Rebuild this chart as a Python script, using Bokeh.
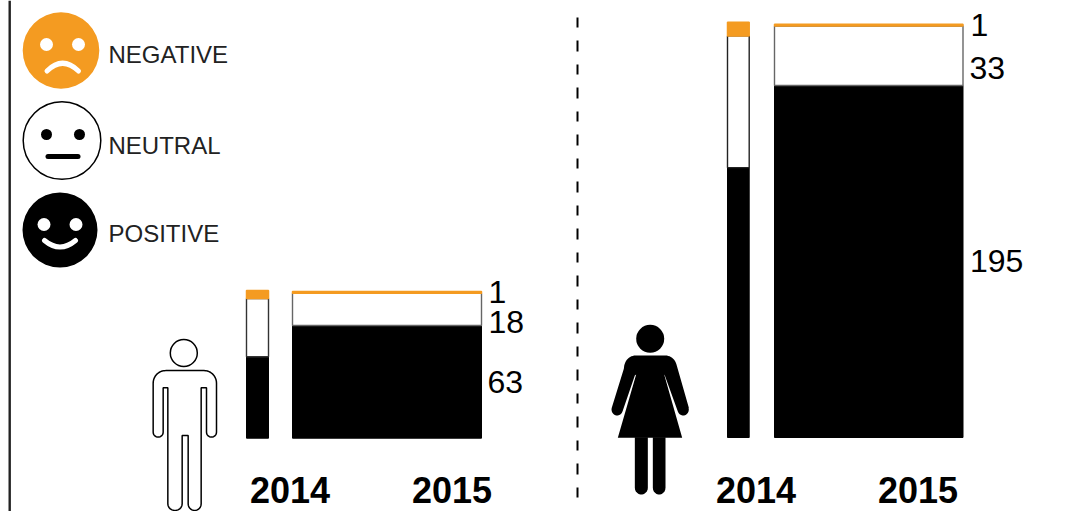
import numpy as np
from bokeh.plotting import figure
from bokeh.models import Range1d
from bokeh.core.properties import value
from bokeh.embed import file_html
from bokeh.resources import INLINE

# ---- data ----
groups = ["men", "women"]
years = ["2014", "2015"]
men_positive = [45.5, 63]
men_neutral = [32.5, 18]
men_negative = [4.5, 1]
women_positive = [149.5, 195]
women_neutral = [73, 33]
women_negative = [7.5, 1]
legend_labels = ["NEGATIVE", "NEUTRAL", "POSITIVE"]

# ---- style / layout ----
ORANGE = "#f49b21"
W, H = 1075, 511
WOMEN_SCALE, WOMEN_BASE = 1.805, 437
MEN_SCALE, MEN_BASE = 1.79, 437.7
BASELINE_SHIFT = 0.37  # renderer places alphabetic text this fraction of its size low
men_left, men_right = [246, 292], [268, 481]
women_left, women_right = [727, 774], [748.7, 962.5]

p = figure(width=W, height=H, output_backend="svg", toolbar_location=None,
           x_range=Range1d(0, W),
           y_range=Range1d((WOMEN_BASE - H) / WOMEN_SCALE, WOMEN_BASE / WOMEN_SCALE),
           min_border=0, outline_line_color=None, background_fill_color="white",
           border_fill_color="white")
p.extra_y_ranges = {"px": Range1d(H, 0),
                    "men": Range1d((MEN_BASE - H) / MEN_SCALE, MEN_BASE / MEN_SCALE)}
p.axis.visible = False
p.grid.visible = False
p.xaxis.visible = False
p.yaxis.visible = False


def stacked(left, right, pos, neu, neg, outline, rng="default"):
    pos, neu, neg = map(np.array, (pos, neu, neg))
    p.quad(left=left, right=right, bottom=0, top=pos, y_range_name=rng,
           fill_color="black", line_color="black", line_width=1)
    for i in range(2):
        p.quad(left=[left[i]], right=[right[i]], bottom=[pos[i]], top=[pos[i] + neu[i]], y_range_name=rng,
               fill_color="white", line_color=outline[i], line_width=1.4)
    p.quad(left=left, right=right, bottom=pos + neu, top=pos + neu + neg, y_range_name=rng,
           fill_color=ORANGE, line_color=ORANGE, line_width=1.5)


stacked(men_left, men_right, men_positive, men_neutral, men_negative, ["#333333", "#666666"], "men")
stacked(women_left, women_right, women_positive, women_neutral, women_negative, ["#222222", "#666666"])


def txt(x, y, s, size, bold=False, font="Liberation Sans", color="black"):
    p.text([x], [y - BASELINE_SHIFT * size], text=[s], y_range_name="px", text_font=value(font),
           text_font_size=f"{size}px", text_font_style="bold" if bold else "normal",
           text_color=color, text_baseline="alphabetic", text_align="left")


# value labels
txt(488, 303, str(men_negative[1]), 32)
txt(488, 333, str(men_neutral[1]), 32)
txt(487, 393, str(men_positive[1]), 32)
txt(970, 36, str(women_negative[1]), 32)
txt(969, 79, str(women_neutral[1]), 32)
txt(969.5, 272, str(women_positive[1]), 32)

# year labels
txt(249.5, 503, years[0], 36, True)
txt(411.5, 503, years[1], 36, True)
txt(715.5, 503, years[0], 36, True)
txt(877.5, 503, years[1], 36, True)

# legend labels
txt(108, 63, legend_labels[0], 24, color="#222222")
txt(108, 154, legend_labels[1], 24, color="#222222")
txt(108, 242, legend_labels[2], 24, color="#222222")

# rules
p.line([9.2, 9.2], [0, 511], y_range_name="px", line_color="#222222", line_width=2.4)
p.line([577, 577], [17, 498], y_range_name="px", line_color="black", line_width=2, line_dash="10 13 11 13")


# face icons
def dot(x, y, r, color):
    p.circle([x], [y], radius=r, y_range_name="px", fill_color=color, line_color=None)


p.circle([60.5], [50], radius=38.3, y_range_name="px", fill_color=ORANGE, line_color=None)
dot(46, 44, 6.5, "white"); dot(78, 44, 6.5, "white")
p.quadratic(x0=[46.5], y0=[70.5], x1=[78], y1=[70.5], cx=[62], cy=[55], y_range_name="px",
            line_color="white", line_width=5, line_cap="round")

p.circle([61.5], [140], radius=38.8, y_range_name="px", fill_color="white", line_color="black", line_width=1.5)
dot(46, 134, 5.5, "black"); dot(79, 134, 5.5, "black")
p.line([47.5, 77.5], [156, 156], y_range_name="px", line_color="black", line_width=5, line_cap="round")

p.circle([59.5], [229.5], radius=37.5, y_range_name="px", fill_color="black", line_color=None)
dot(43.5, 224, 6.5, "white"); dot(75.5, 224, 6.5, "white")
p.quadratic(x0=[44], y0=[240], x1=[75], y1=[240], cx=[59.5], cy=[253], y_range_name="px",
            line_color="white", line_width=5, line_cap="round")


# person icons: outlines traced in crop coordinates
def arc(cx, cy, rx, ry, a0, a1, n=12):
    t = np.radians(np.linspace(a0, a1, n))
    return list(zip(cx + rx * np.cos(t), cy + ry * np.sin(t)))


def to_px(pts, ox, oy):
    a = np.array(pts, dtype=float)
    return list(a[:, 0] / 3 + ox), list(a[:, 1] / 3 + oy)


man = ([(75, 270), (190, 270)] + arc(190, 308, 38, 38, -90, 0) + [(228, 455)]
       + arc(213, 455, 15, 15, 0, 180) + [(198, 322), (182, 322), (182, 670)]
       + arc(162.5, 670, 19.5, 20, 0, 180) + [(143, 465), (125, 465), (125, 670)]
       + arc(103.5, 670, 21.5, 20, 0, 180) + [(82, 322), (68, 322), (68, 455)]
       + arc(53, 455, 15, 15, 0, 180) + [(38, 308)] + arc(76, 308, 38, 38, 180, 270))
mx, my = to_px(man, 140, 280)
p.patch(mx, my, y_range_name="px", fill_color="white", line_color="black", line_width=1.5)
p.circle([183.3], [352.5], radius=13.5, y_range_name="px", fill_color="white", line_color="black", line_width=1.5)

woman = ([(195, 165), (285, 165)] + arc(285, 205, 35, 40, -90, -15) + [(355, 322)]
         + arc(338, 327, 17, 18, -15, 160) + [(283, 225), (281, 222), (335, 412), (142, 412),
                                               (197, 222), (193, 225)]
         + arc(140, 327, 17, 18, 20, 195) + [(160, 205)] + arc(195, 205, 35, 40, 195, 270))
wx, wy = to_px(woman, 570, 300)
p.patch(wx, wy, y_range_name="px", fill_color="black", line_color=None)
for a, b in [(193, 232), (247, 285)]:
    leg = [(a, 410), (b, 410), (b, 562)] + arc((a + b) / 2, 562, (b - a) / 2, 20, 0, 180)
    lx, ly = to_px(leg, 570, 300)
    p.patch(lx, ly, y_range_name="px", fill_color="black", line_color=None)
p.circle([649.7], [338.3], radius=14, y_range_name="px", fill_color="black", line_color=None)

open("out.html", "w").write(file_html(p, INLINE))
